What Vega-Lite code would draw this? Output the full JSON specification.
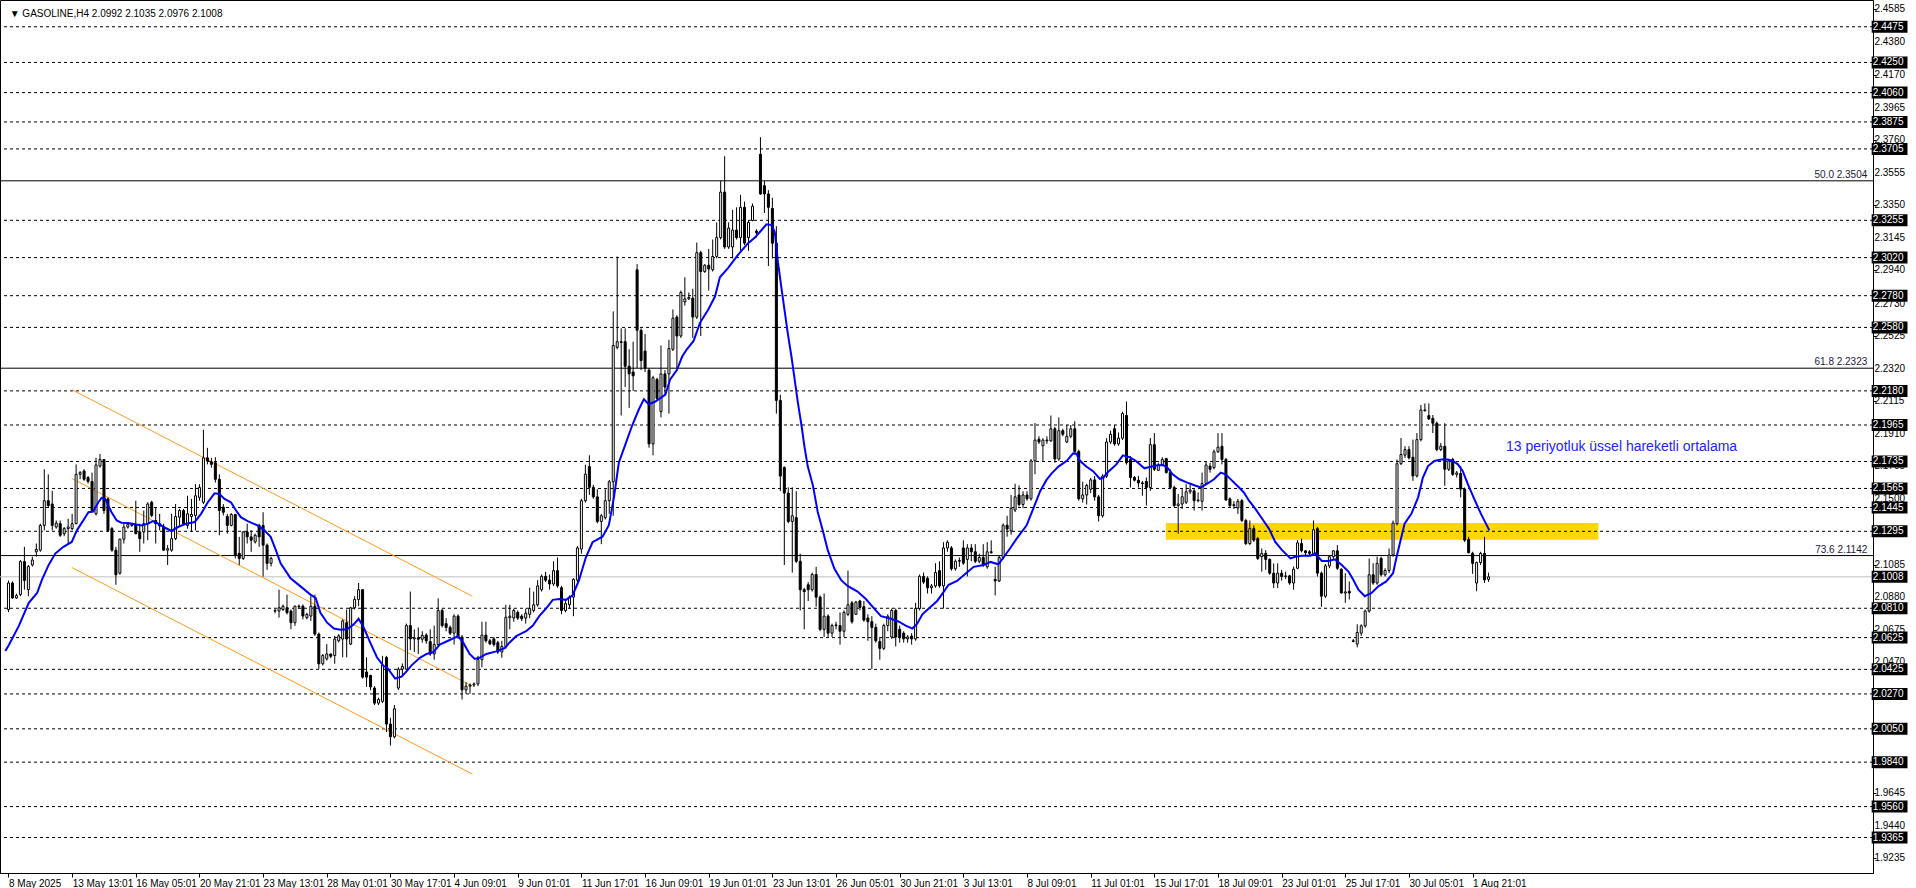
{
"$schema":"https://vega.github.io/schema/vega-lite/v6.json",
"width":1873,"height":873,
"autosize":{"type":"none"},
"padding":{"left":0,"top":0,"right":43,"bottom":15},
"background":"white",
"config":{"view":{"stroke":"black","strokeWidth":1},"font":"Liberation Sans","axis":{"labelOverlap":false,"labelBound":false,"labelFlush":false,"title":null,"grid":false}},
"datasets":{
"candles":[
{"i":0,"o":2.0802,"h":2.0985,"l":2.0786,"c":2.0969},
{"i":1,"o":2.0969,"h":2.0979,"l":2.0869,"c":2.0875},
{"i":2,"o":2.0875,"h":2.0902,"l":2.0869,"c":2.0890},
{"i":3,"o":2.0896,"h":2.1114,"l":2.0886,"c":2.1104},
{"i":4,"o":2.1104,"h":2.1197,"l":2.0927,"c":2.0985},
{"i":5,"o":2.0927,"h":2.1083,"l":2.0886,"c":2.1073},
{"i":6,"o":2.1083,"h":2.1135,"l":2.1073,"c":2.1114},
{"i":7,"o":2.1166,"h":2.1218,"l":2.1135,"c":2.1181},
{"i":8,"o":2.1176,"h":2.1343,"l":2.1166,"c":2.1332},
{"i":9,"o":2.1332,"h":2.1686,"l":2.1301,"c":2.1488},
{"i":10,"o":2.1488,"h":2.1654,"l":2.1447,"c":2.1457},
{"i":11,"o":2.1467,"h":2.1550,"l":2.1301,"c":2.1332},
{"i":12,"o":2.1322,"h":2.1363,"l":2.1312,"c":2.1347},
{"i":13,"o":2.1343,"h":2.1363,"l":2.1260,"c":2.1270},
{"i":14,"o":2.1280,"h":2.1322,"l":2.1264,"c":2.1312},
{"i":15,"o":2.1312,"h":2.1374,"l":2.1218,"c":2.1322},
{"i":16,"o":2.1312,"h":2.1405,"l":2.1301,"c":2.1343},
{"i":17,"o":2.1343,"h":2.1717,"l":2.1339,"c":2.1654},
{"i":18,"o":2.1654,"h":2.1675,"l":2.1623,"c":2.1665},
{"i":19,"o":2.1675,"h":2.1686,"l":2.1613,"c":2.1623},
{"i":20,"o":2.1634,"h":2.1644,"l":2.1596,"c":2.1609},
{"i":21,"o":2.1609,"h":2.1665,"l":2.1415,"c":2.1426},
{"i":22,"o":2.1405,"h":2.1758,"l":2.1395,"c":2.1713},
{"i":23,"o":2.1706,"h":2.1783,"l":2.1696,"c":2.1748},
{"i":24,"o":2.1748,"h":2.1750,"l":2.1405,"c":2.1426},
{"i":25,"o":2.1499,"h":2.1509,"l":2.1291,"c":2.1301},
{"i":26,"o":2.1312,"h":2.1322,"l":2.1166,"c":2.1176},
{"i":27,"o":2.1176,"h":2.1197,"l":2.0958,"c":2.1021},
{"i":28,"o":2.1031,"h":2.1249,"l":2.1021,"c":2.1245},
{"i":29,"o":2.1245,"h":2.1343,"l":2.1218,"c":2.1322},
{"i":30,"o":2.1322,"h":2.1353,"l":2.1312,"c":2.1339},
{"i":31,"o":2.1339,"h":2.1347,"l":2.1322,"c":2.1332},
{"i":32,"o":2.1336,"h":2.1488,"l":2.1276,"c":2.1280},
{"i":33,"o":2.1291,"h":2.1343,"l":2.1166,"c":2.1249},
{"i":34,"o":2.1291,"h":2.1426,"l":2.1218,"c":2.1343},
{"i":35,"o":2.1343,"h":2.1478,"l":2.1239,"c":2.1467},
{"i":36,"o":2.1478,"h":2.1488,"l":2.1384,"c":2.1395},
{"i":37,"o":2.1363,"h":2.1447,"l":2.1218,"c":2.1343},
{"i":38,"o":2.1343,"h":2.1405,"l":2.1301,"c":2.1328},
{"i":39,"o":2.1322,"h":2.1343,"l":2.1172,"c":2.1176},
{"i":40,"o":2.1176,"h":2.1208,"l":2.1083,"c":2.1185},
{"i":41,"o":2.1176,"h":2.1405,"l":2.1166,"c":2.1249},
{"i":42,"o":2.1249,"h":2.1467,"l":2.1239,"c":2.1388},
{"i":43,"o":2.1384,"h":2.1436,"l":2.1332,"c":2.1426},
{"i":44,"o":2.1426,"h":2.1436,"l":2.1332,"c":2.1343},
{"i":45,"o":2.1332,"h":2.1519,"l":2.1312,"c":2.1405},
{"i":46,"o":2.1388,"h":2.1499,"l":2.1291,"c":2.1401},
{"i":47,"o":2.1395,"h":2.1592,"l":2.1301,"c":2.1519},
{"i":48,"o":2.1509,"h":2.1592,"l":2.1488,"c":2.1571},
{"i":49,"o":2.1478,"h":2.1935,"l":2.1467,"c":2.1758},
{"i":50,"o":2.1758,"h":2.1821,"l":2.1717,"c":2.1738},
{"i":51,"o":2.1733,"h":2.1758,"l":2.1696,"c":2.1717},
{"i":52,"o":2.1727,"h":2.1762,"l":2.1602,"c":2.1623},
{"i":53,"o":2.1623,"h":2.1654,"l":2.1270,"c":2.1426},
{"i":54,"o":2.1447,"h":2.1467,"l":2.1395,"c":2.1415},
{"i":55,"o":2.1388,"h":2.1405,"l":2.1280,"c":2.1332},
{"i":56,"o":2.1332,"h":2.1409,"l":2.1326,"c":2.1401},
{"i":57,"o":2.1401,"h":2.1405,"l":2.1124,"c":2.1145},
{"i":58,"o":2.1156,"h":2.1260,"l":2.1083,"c":2.1124},
{"i":59,"o":2.1124,"h":2.1295,"l":2.1114,"c":2.1291},
{"i":60,"o":2.1291,"h":2.1343,"l":2.1218,"c":2.1260},
{"i":61,"o":2.1260,"h":2.1301,"l":2.1166,"c":2.1239},
{"i":62,"o":2.1228,"h":2.1280,"l":2.1218,"c":2.1270},
{"i":63,"o":2.1332,"h":2.1343,"l":2.1197,"c":2.1260},
{"i":64,"o":2.1332,"h":2.1415,"l":2.1010,"c":2.1208},
{"i":65,"o":2.1208,"h":2.1218,"l":2.1052,"c":2.1093},
{"i":66,"o":2.1093,"h":2.1135,"l":2.1073,"c":2.1124},
{"i":67,"o":2.0792,"h":2.0807,"l":2.0778,"c":2.0796},
{"i":68,"o":2.0792,"h":2.0927,"l":2.0751,"c":2.0813},
{"i":69,"o":2.0802,"h":2.0834,"l":2.0792,"c":2.0823},
{"i":70,"o":2.0813,"h":2.0896,"l":2.0771,"c":2.0782},
{"i":71,"o":2.0792,"h":2.0802,"l":2.0678,"c":2.0719},
{"i":72,"o":2.0719,"h":2.0827,"l":2.0699,"c":2.0823},
{"i":73,"o":2.0823,"h":2.0834,"l":2.0807,"c":2.0819},
{"i":74,"o":2.0823,"h":2.0834,"l":2.0740,"c":2.0761},
{"i":75,"o":2.0751,"h":2.0782,"l":2.0740,"c":2.0771},
{"i":76,"o":2.0761,"h":2.0886,"l":2.0730,"c":2.0823},
{"i":77,"o":2.0823,"h":2.0896,"l":2.0636,"c":2.0647},
{"i":78,"o":2.0647,"h":2.0657,"l":2.0428,"c":2.0460},
{"i":79,"o":2.0460,"h":2.0522,"l":2.0449,"c":2.0512},
{"i":80,"o":2.0491,"h":2.0584,"l":2.0480,"c":2.0522},
{"i":81,"o":2.0522,"h":2.0522,"l":2.0495,"c":2.0507},
{"i":82,"o":2.0512,"h":2.0636,"l":2.0460,"c":2.0616},
{"i":83,"o":2.0605,"h":2.0647,"l":2.0595,"c":2.0636},
{"i":84,"o":2.0616,"h":2.0740,"l":2.0501,"c":2.0730},
{"i":85,"o":2.0719,"h":2.0802,"l":2.0501,"c":2.0616},
{"i":86,"o":2.0584,"h":2.0819,"l":2.0578,"c":2.0813},
{"i":87,"o":2.0813,"h":2.0886,"l":2.0802,"c":2.0865},
{"i":88,"o":2.0865,"h":2.0969,"l":2.0823,"c":2.0927},
{"i":89,"o":2.0927,"h":2.0930,"l":2.0366,"c":2.0376},
{"i":90,"o":2.0408,"h":2.0501,"l":2.0314,"c":2.0376},
{"i":91,"o":2.0387,"h":2.0390,"l":2.0293,"c":2.0314},
{"i":92,"o":2.0307,"h":2.0319,"l":2.0200,"c":2.0212},
{"i":93,"o":2.0212,"h":2.0247,"l":2.0200,"c":2.0235},
{"i":94,"o":2.0223,"h":2.0510,"l":2.0212,"c":2.0450},
{"i":95,"o":2.0500,"h":2.0510,"l":2.0030,"c":2.0080},
{"i":96,"o":2.0080,"h":2.0120,"l":1.9945,"c":2.0000},
{"i":97,"o":2.0000,"h":2.0200,"l":1.9990,"c":2.0176},
{"i":98,"o":2.0307,"h":2.0438,"l":2.0295,"c":2.0426},
{"i":99,"o":2.0426,"h":2.0462,"l":2.0390,"c":2.0443},
{"i":100,"o":2.0426,"h":2.0713,"l":2.0419,"c":2.0701},
{"i":101,"o":2.0701,"h":2.0915,"l":2.0546,"c":2.0617},
{"i":102,"o":2.0617,"h":2.0677,"l":2.0534,"c":2.0624},
{"i":103,"o":2.0624,"h":2.0689,"l":2.0522,"c":2.0615},
{"i":104,"o":2.0615,"h":2.0665,"l":2.0593,"c":2.0639},
{"i":105,"o":2.0641,"h":2.0653,"l":2.0586,"c":2.0605},
{"i":106,"o":2.0600,"h":2.0677,"l":2.0510,"c":2.0522},
{"i":107,"o":2.0522,"h":2.0701,"l":2.0486,"c":2.0581},
{"i":108,"o":2.0581,"h":2.0872,"l":2.0569,"c":2.0796},
{"i":109,"o":2.0796,"h":2.0808,"l":2.0689,"c":2.0701},
{"i":110,"o":2.0713,"h":2.0748,"l":2.0665,"c":2.0689},
{"i":111,"o":2.0689,"h":2.0701,"l":2.0641,"c":2.0653},
{"i":112,"o":2.0653,"h":2.0772,"l":2.0581,"c":2.0760},
{"i":113,"o":2.0760,"h":2.0772,"l":2.0617,"c":2.0629},
{"i":114,"o":2.0629,"h":2.0641,"l":2.0235,"c":2.0295},
{"i":115,"o":2.0295,"h":2.0343,"l":2.0271,"c":2.0319},
{"i":116,"o":2.0319,"h":2.0336,"l":2.0271,"c":2.0326},
{"i":117,"o":2.0326,"h":2.0343,"l":2.0314,"c":2.0333},
{"i":118,"o":2.0333,"h":2.0510,"l":2.0319,"c":2.0486},
{"i":119,"o":2.0486,"h":2.0725,"l":2.0438,"c":2.0641},
{"i":120,"o":2.0641,"h":2.0725,"l":2.0593,"c":2.0605},
{"i":121,"o":2.0605,"h":2.0617,"l":2.0577,"c":2.0586},
{"i":122,"o":2.0617,"h":2.0629,"l":2.0569,"c":2.0581},
{"i":123,"o":2.0593,"h":2.0605,"l":2.0522,"c":2.0534},
{"i":124,"o":2.0534,"h":2.0605,"l":2.0498,"c":2.0569},
{"i":125,"o":2.0569,"h":2.0832,"l":2.0557,"c":2.0753},
{"i":126,"o":2.0751,"h":2.0832,"l":2.0677,"c":2.0760},
{"i":127,"o":2.0748,"h":2.0808,"l":2.0725,"c":2.0796},
{"i":128,"o":2.0784,"h":2.0796,"l":2.0736,"c":2.0748},
{"i":129,"o":2.0760,"h":2.0772,"l":2.0729,"c":2.0744},
{"i":130,"o":2.0748,"h":2.0808,"l":2.0713,"c":2.0779},
{"i":131,"o":2.0772,"h":2.0939,"l":2.0748,"c":2.0808},
{"i":132,"o":2.0796,"h":2.0915,"l":2.0784,"c":2.0832},
{"i":133,"o":2.0832,"h":2.0987,"l":2.0820,"c":2.0951},
{"i":134,"o":2.0927,"h":2.1023,"l":2.0915,"c":2.1011},
{"i":135,"o":2.1011,"h":2.1039,"l":2.0975,"c":2.0987},
{"i":136,"o":2.0987,"h":2.1023,"l":2.0927,"c":2.0963},
{"i":137,"o":2.0963,"h":2.1106,"l":2.0951,"c":2.1047},
{"i":138,"o":2.1047,"h":2.1130,"l":2.0939,"c":2.0951},
{"i":139,"o":2.0939,"h":2.0951,"l":2.0772,"c":2.0796},
{"i":140,"o":2.0796,"h":2.0856,"l":2.0784,"c":2.0839},
{"i":141,"o":2.0832,"h":2.0891,"l":2.0808,"c":2.0880},
{"i":142,"o":2.0880,"h":2.0999,"l":2.0760,"c":2.0992},
{"i":143,"o":2.0987,"h":2.1202,"l":2.0975,"c":2.1190},
{"i":144,"o":2.1183,"h":2.1500,"l":2.1154,"c":2.1488},
{"i":145,"o":2.1488,"h":2.1715,"l":2.1476,"c":2.1655},
{"i":146,"o":2.1703,"h":2.1774,"l":2.1524,"c":2.1572},
{"i":147,"o":2.1572,"h":2.1588,"l":2.1500,"c":2.1512},
{"i":148,"o":2.1512,"h":2.1560,"l":2.1345,"c":2.1357},
{"i":149,"o":2.1357,"h":2.1405,"l":2.1214,"c":2.1393},
{"i":150,"o":2.1381,"h":2.1560,"l":2.1369,"c":2.1488},
{"i":151,"o":2.1488,"h":2.1619,"l":2.1405,"c":2.1607},
{"i":152,"o":2.1607,"h":2.2681,"l":2.1393,"c":2.2466},
{"i":153,"o":2.2454,"h":2.3027,"l":2.2442,"c":2.2490},
{"i":154,"o":2.2490,"h":2.2574,"l":2.2025,"c":2.2485},
{"i":155,"o":2.2490,"h":2.2574,"l":2.2204,"c":2.2335},
{"i":156,"o":2.2335,"h":2.2442,"l":2.2073,"c":2.2287},
{"i":157,"o":2.2299,"h":2.2490,"l":2.2180,"c":2.2275},
{"i":158,"o":2.2943,"h":2.2979,"l":2.2323,"c":2.2562},
{"i":159,"o":2.2562,"h":2.2574,"l":2.2311,"c":2.2371},
{"i":160,"o":2.2431,"h":2.2538,"l":2.2299,"c":2.2323},
{"i":161,"o":2.2311,"h":2.2323,"l":2.1822,"c":2.1846},
{"i":162,"o":2.1846,"h":2.2275,"l":2.1774,"c":2.2263},
{"i":163,"o":2.2252,"h":2.2263,"l":2.2120,"c":2.2132},
{"i":164,"o":2.2049,"h":2.2466,"l":2.2013,"c":2.2287},
{"i":165,"o":2.2287,"h":2.2311,"l":2.2156,"c":2.2204},
{"i":166,"o":2.2287,"h":2.2502,"l":2.2037,"c":2.2447},
{"i":167,"o":2.2442,"h":2.2693,"l":2.2431,"c":2.2638},
{"i":168,"o":2.2645,"h":2.2657,"l":2.2323,"c":2.2526},
{"i":169,"o":2.2526,"h":2.2812,"l":2.2514,"c":2.2800},
{"i":170,"o":2.2741,"h":2.2896,"l":2.2717,"c":2.2760},
{"i":171,"o":2.2760,"h":2.2800,"l":2.2753,"c":2.2769},
{"i":172,"o":2.2765,"h":2.2824,"l":2.2514,"c":2.2645},
{"i":173,"o":2.2645,"h":2.3115,"l":2.2633,"c":2.3051},
{"i":174,"o":2.3051,"h":2.3063,"l":2.2526,"c":2.2932},
{"i":175,"o":2.2932,"h":2.2979,"l":2.2924,"c":2.2972},
{"i":176,"o":2.2972,"h":2.3075,"l":2.2812,"c":2.2948},
{"i":177,"o":2.2944,"h":2.3134,"l":2.2932,"c":2.3027},
{"i":178,"o":2.3027,"h":2.3242,"l":2.3015,"c":2.3146},
{"i":179,"o":2.3146,"h":2.3504,"l":2.3134,"c":2.3433},
{"i":180,"o":2.3433,"h":2.3659,"l":2.3075,"c":2.3087},
{"i":181,"o":2.3087,"h":2.3242,"l":2.3075,"c":2.3206},
{"i":182,"o":2.3087,"h":2.3321,"l":2.3015,"c":2.3194},
{"i":183,"o":2.3194,"h":2.3337,"l":2.3134,"c":2.3146},
{"i":184,"o":2.3146,"h":2.3416,"l":2.3063,"c":2.3337},
{"i":185,"o":2.3337,"h":2.3373,"l":2.3099,"c":2.3111},
{"i":186,"o":2.3146,"h":2.3254,"l":2.3063,"c":2.3242},
{"i":187,"o":2.3254,"h":2.3361,"l":2.3249,"c":2.3344},
{"i":188,"o":2.3187,"h":2.3199,"l":2.3146,"c":2.3177},
{"i":189,"o":2.3671,"h":2.3779,"l":2.3416,"c":2.3421},
{"i":190,"o":2.3473,"h":2.3504,"l":2.3301,"c":2.3421},
{"i":191,"o":2.3421,"h":2.3445,"l":2.2967,"c":2.3337},
{"i":192,"o":2.3330,"h":2.3397,"l":2.3015,"c":2.3111},
{"i":193,"o":2.3111,"h":2.3218,"l":2.2037,"c":2.2120},
{"i":194,"o":2.2120,"h":2.2156,"l":2.1548,"c":2.1643},
{"i":195,"o":2.1698,"h":2.1703,"l":2.1083,"c":2.1536},
{"i":196,"o":2.1536,"h":2.1572,"l":2.1345,"c":2.1357},
{"i":197,"o":2.1357,"h":2.1572,"l":2.1035,"c":2.1393},
{"i":198,"o":2.1381,"h":2.1548,"l":2.1094,"c":2.1106},
{"i":199,"o":2.1106,"h":2.1154,"l":2.0796,"c":2.0927},
{"i":200,"o":2.0927,"h":2.0939,"l":2.0677,"c":2.0915},
{"i":201,"o":2.0958,"h":2.0975,"l":2.0856,"c":2.0927},
{"i":202,"o":2.0927,"h":2.1035,"l":2.0915,"c":2.1023},
{"i":203,"o":2.1023,"h":2.1071,"l":2.0820,"c":2.0880},
{"i":204,"o":2.0880,"h":2.0891,"l":2.0665,"c":2.0677},
{"i":205,"o":2.0677,"h":2.0903,"l":2.0629,"c":2.0760},
{"i":206,"o":2.0760,"h":2.0772,"l":2.0629,"c":2.0653},
{"i":207,"o":2.0653,"h":2.0713,"l":2.0629,"c":2.0701},
{"i":208,"o":2.0701,"h":2.0725,"l":2.0677,"c":2.0705},
{"i":209,"o":2.0701,"h":2.0784,"l":2.0581,"c":2.0665},
{"i":210,"o":2.0665,"h":2.0796,"l":2.0629,"c":2.0784},
{"i":211,"o":2.0772,"h":2.1047,"l":2.0760,"c":2.0832},
{"i":212,"o":2.0844,"h":2.0856,"l":2.0713,"c":2.0725},
{"i":213,"o":2.0772,"h":2.0856,"l":2.0767,"c":2.0849},
{"i":214,"o":2.0856,"h":2.0863,"l":2.0796,"c":2.0815},
{"i":215,"o":2.0820,"h":2.0856,"l":2.0725,"c":2.0736},
{"i":216,"o":2.0748,"h":2.0772,"l":2.0605,"c":2.0725},
{"i":217,"o":2.0725,"h":2.0760,"l":2.0426,"c":2.0689},
{"i":218,"o":2.0689,"h":2.0713,"l":2.0593,"c":2.0605},
{"i":219,"o":2.0600,"h":2.0629,"l":2.0486,"c":2.0557},
{"i":220,"o":2.0557,"h":2.0713,"l":2.0546,"c":2.0701},
{"i":221,"o":2.0701,"h":2.0772,"l":2.0665,"c":2.0760},
{"i":222,"o":2.0629,"h":2.0808,"l":2.0617,"c":2.0796},
{"i":223,"o":2.0796,"h":2.0808,"l":2.0569,"c":2.0629},
{"i":224,"o":2.0677,"h":2.0701,"l":2.0593,"c":2.0629},
{"i":225,"o":2.0653,"h":2.0665,"l":2.0593,"c":2.0617},
{"i":226,"o":2.0617,"h":2.0641,"l":2.0593,"c":2.0629},
{"i":227,"o":2.0634,"h":2.0653,"l":2.0581,"c":2.0617},
{"i":228,"o":2.0617,"h":2.0844,"l":2.0605,"c":2.0808},
{"i":229,"o":2.0808,"h":2.1023,"l":2.0796,"c":2.1011},
{"i":230,"o":2.1011,"h":2.1035,"l":2.0963,"c":2.0975},
{"i":231,"o":2.0999,"h":2.1011,"l":2.0903,"c":2.0939},
{"i":232,"o":2.0939,"h":2.0963,"l":2.0903,"c":2.0951},
{"i":233,"o":2.0951,"h":2.1094,"l":2.0939,"c":2.1035},
{"i":234,"o":2.1047,"h":2.1106,"l":2.0939,"c":2.0951},
{"i":235,"o":2.0951,"h":2.1226,"l":2.0808,"c":2.1190},
{"i":236,"o":2.1190,"h":2.1238,"l":2.1166,"c":2.1226},
{"i":237,"o":2.1190,"h":2.1202,"l":2.1047,"c":2.1059},
{"i":238,"o":2.1059,"h":2.1118,"l":2.1047,"c":2.1106},
{"i":239,"o":2.1106,"h":2.1130,"l":2.1071,"c":2.1111},
{"i":240,"o":2.1190,"h":2.1238,"l":2.1083,"c":2.1094},
{"i":241,"o":2.1118,"h":2.1214,"l":2.1011,"c":2.1190},
{"i":242,"o":2.1190,"h":2.1214,"l":2.1106,"c":2.1166},
{"i":243,"o":2.1166,"h":2.1214,"l":2.1094,"c":2.1106},
{"i":244,"o":2.1106,"h":2.1154,"l":2.1094,"c":2.1130},
{"i":245,"o":2.1130,"h":2.1214,"l":2.1071,"c":2.1083},
{"i":246,"o":2.1071,"h":2.1226,"l":2.1059,"c":2.1166},
{"i":247,"o":2.1166,"h":2.1238,"l":2.1154,"c":2.1161},
{"i":248,"o":2.0992,"h":2.1071,"l":2.0891,"c":2.0982},
{"i":249,"o":2.0982,"h":2.1142,"l":2.0975,"c":2.1130},
{"i":250,"o":2.1130,"h":2.1345,"l":2.1118,"c":2.1333},
{"i":251,"o":2.1333,"h":2.1393,"l":2.1261,"c":2.1309},
{"i":252,"o":2.1297,"h":2.1524,"l":2.1273,"c":2.1440},
{"i":253,"o":2.1429,"h":2.1595,"l":2.1416,"c":2.1512},
{"i":254,"o":2.1524,"h":2.1584,"l":2.1452,"c":2.1464},
{"i":255,"o":2.1464,"h":2.1548,"l":2.1440,"c":2.1524},
{"i":256,"o":2.1524,"h":2.1548,"l":2.1488,"c":2.1500},
{"i":257,"o":2.1500,"h":2.1751,"l":2.1488,"c":2.1739},
{"i":258,"o":2.1739,"h":2.1977,"l":2.1655,"c":2.1870},
{"i":259,"o":2.1875,"h":2.1894,"l":2.1846,"c":2.1858},
{"i":260,"o":2.1834,"h":2.1882,"l":2.1739,"c":2.1870},
{"i":261,"o":2.1870,"h":2.1894,"l":2.1846,"c":2.1865},
{"i":262,"o":2.1865,"h":2.2025,"l":2.1858,"c":2.1941},
{"i":263,"o":2.1941,"h":2.1953,"l":2.1727,"c":2.1751},
{"i":264,"o":2.1751,"h":2.2013,"l":2.1739,"c":2.1929},
{"i":265,"o":2.1929,"h":2.1941,"l":2.1894,"c":2.1906},
{"i":266,"o":2.1858,"h":2.1965,"l":2.1851,"c":2.1894},
{"i":267,"o":2.1894,"h":2.1965,"l":2.1882,"c":2.1941},
{"i":268,"o":2.1941,"h":2.1989,"l":2.1786,"c":2.1798},
{"i":269,"o":2.1798,"h":2.1810,"l":2.1488,"c":2.1500},
{"i":270,"o":2.1500,"h":2.1607,"l":2.1476,"c":2.1524},
{"i":271,"o":2.1524,"h":2.1595,"l":2.1464,"c":2.1584},
{"i":272,"o":2.1560,"h":2.1631,"l":2.1536,"c":2.1619},
{"i":273,"o":2.1619,"h":2.1643,"l":2.1488,"c":2.1512},
{"i":274,"o":2.1512,"h":2.1524,"l":2.1357,"c":2.1393},
{"i":275,"o":2.1393,"h":2.1655,"l":2.1381,"c":2.1643},
{"i":276,"o":2.1643,"h":2.1882,"l":2.1631,"c":2.1858},
{"i":277,"o":2.1858,"h":2.1929,"l":2.1846,"c":2.1906},
{"i":278,"o":2.1941,"h":2.1965,"l":2.1834,"c":2.1846},
{"i":279,"o":2.1846,"h":2.1918,"l":2.1834,"c":2.1882},
{"i":280,"o":2.1882,"h":2.2049,"l":2.1870,"c":2.2037},
{"i":281,"o":2.2025,"h":2.2113,"l":2.1715,"c":2.1727},
{"i":282,"o":2.1748,"h":2.1769,"l":2.1571,"c":2.1634},
{"i":283,"o":2.1634,"h":2.1644,"l":2.1609,"c":2.1617},
{"i":284,"o":2.1617,"h":2.1644,"l":2.1571,"c":2.1600},
{"i":285,"o":2.1600,"h":2.1613,"l":2.1519,"c":2.1596},
{"i":286,"o":2.1609,"h":2.1634,"l":2.1457,"c":2.1571},
{"i":287,"o":2.1571,"h":2.1883,"l":2.1550,"c":2.1841},
{"i":288,"o":2.1841,"h":2.1914,"l":2.1675,"c":2.1686},
{"i":289,"o":2.1679,"h":2.1727,"l":2.1675,"c":2.1713},
{"i":290,"o":2.1713,"h":2.1762,"l":2.1706,"c":2.1748},
{"i":291,"o":2.1754,"h":2.1758,"l":2.1659,"c":2.1665},
{"i":292,"o":2.1665,"h":2.1686,"l":2.1561,"c":2.1571},
{"i":293,"o":2.1571,"h":2.1582,"l":2.1447,"c":2.1457},
{"i":294,"o":2.1457,"h":2.1530,"l":2.1280,"c":2.1467},
{"i":295,"o":2.1467,"h":2.1561,"l":2.1436,"c":2.1513},
{"i":296,"o":2.1478,"h":2.1592,"l":2.1467,"c":2.1544},
{"i":297,"o":2.1544,"h":2.1596,"l":2.1530,"c":2.1555},
{"i":298,"o":2.1550,"h":2.1561,"l":2.1426,"c":2.1488},
{"i":299,"o":2.1488,"h":2.1540,"l":2.1478,"c":2.1492},
{"i":300,"o":2.1484,"h":2.1665,"l":2.1426,"c":2.1596},
{"i":301,"o":2.1596,"h":2.1738,"l":2.1592,"c":2.1713},
{"i":302,"o":2.1706,"h":2.1727,"l":2.1665,"c":2.1686},
{"i":303,"o":2.1696,"h":2.1810,"l":2.1686,"c":2.1796},
{"i":304,"o":2.1796,"h":2.1914,"l":2.1789,"c":2.1825},
{"i":305,"o":2.1831,"h":2.1914,"l":2.1717,"c":2.1748},
{"i":306,"o":2.1748,"h":2.1758,"l":2.1488,"c":2.1492},
{"i":307,"o":2.1499,"h":2.1509,"l":2.1447,"c":2.1457},
{"i":308,"o":2.1457,"h":2.1484,"l":2.1436,"c":2.1463},
{"i":309,"o":2.1442,"h":2.1499,"l":2.1405,"c":2.1484},
{"i":310,"o":2.1488,"h":2.1499,"l":2.1353,"c":2.1363},
{"i":311,"o":2.1363,"h":2.1374,"l":2.1208,"c":2.1218},
{"i":312,"o":2.1218,"h":2.1363,"l":2.1208,"c":2.1312},
{"i":313,"o":2.1312,"h":2.1332,"l":2.1228,"c":2.1239},
{"i":314,"o":2.1249,"h":2.1260,"l":2.1114,"c":2.1124},
{"i":315,"o":2.1135,"h":2.1187,"l":2.1041,"c":2.1156},
{"i":316,"o":2.1156,"h":2.1176,"l":2.1052,"c":2.1118},
{"i":317,"o":2.1118,"h":2.1124,"l":2.1021,"c":2.1031},
{"i":318,"o":2.1031,"h":2.1093,"l":2.0937,"c":2.0969},
{"i":319,"o":2.0969,"h":2.1093,"l":2.0937,"c":2.1031},
{"i":320,"o":2.1031,"h":2.1052,"l":2.0985,"c":2.1010},
{"i":321,"o":2.1010,"h":2.1041,"l":2.0994,"c":2.1014},
{"i":322,"o":2.1014,"h":2.1021,"l":2.0958,"c":2.0969},
{"i":323,"o":2.0969,"h":2.1073,"l":2.0927,"c":2.1056},
{"i":324,"o":2.1062,"h":2.1239,"l":2.1056,"c":2.1222},
{"i":325,"o":2.1218,"h":2.1249,"l":2.1162,"c":2.1172},
{"i":326,"o":2.1172,"h":2.1176,"l":2.1145,"c":2.1160},
{"i":327,"o":2.1166,"h":2.1176,"l":2.1145,"c":2.1156},
{"i":328,"o":2.1156,"h":2.1363,"l":2.1145,"c":2.1305},
{"i":329,"o":2.1312,"h":2.1322,"l":2.1010,"c":2.1031},
{"i":330,"o":2.1031,"h":2.1041,"l":2.0819,"c":2.0886},
{"i":331,"o":2.0886,"h":2.1089,"l":2.0875,"c":2.1077},
{"i":332,"o":2.1077,"h":2.1145,"l":2.1062,"c":2.1135},
{"i":333,"o":2.1135,"h":2.1176,"l":2.1114,"c":2.1172},
{"i":334,"o":2.1172,"h":2.1208,"l":2.1052,"c":2.1062},
{"i":335,"o":2.1056,"h":2.1062,"l":2.0902,"c":2.0906},
{"i":336,"o":2.0906,"h":2.1031,"l":2.0844,"c":2.0913},
{"i":337,"o":2.0917,"h":2.0979,"l":2.0865,"c":2.0906},
{"i":338,"o":2.0605,"h":2.0616,"l":2.0595,"c":2.0601},
{"i":339,"o":2.0584,"h":2.0709,"l":2.0563,"c":2.0657},
{"i":340,"o":2.0653,"h":2.0709,"l":2.0636,"c":2.0699},
{"i":341,"o":2.0699,"h":2.0802,"l":2.0688,"c":2.0792},
{"i":342,"o":2.0792,"h":2.1124,"l":2.0782,"c":2.1021},
{"i":343,"o":2.1021,"h":2.1093,"l":2.0958,"c":2.0969},
{"i":344,"o":2.0969,"h":2.1135,"l":2.0958,"c":2.1093},
{"i":345,"o":2.1124,"h":2.1135,"l":2.1010,"c":2.1021},
{"i":346,"o":2.1021,"h":2.1062,"l":2.1010,"c":2.1048},
{"i":347,"o":2.1048,"h":2.1187,"l":2.1031,"c":2.1145},
{"i":348,"o":2.1145,"h":2.1363,"l":2.1135,"c":2.1347},
{"i":349,"o":2.1343,"h":2.1748,"l":2.1332,"c":2.1721},
{"i":350,"o":2.1721,"h":2.1883,"l":2.1713,"c":2.1779},
{"i":351,"o":2.1775,"h":2.1831,"l":2.1758,"c":2.1810},
{"i":352,"o":2.1810,"h":2.1831,"l":2.1748,"c":2.1758},
{"i":353,"o":2.1762,"h":2.1873,"l":2.1613,"c":2.1644},
{"i":354,"o":2.1644,"h":2.1914,"l":2.1634,"c":2.1873},
{"i":355,"o":2.1873,"h":2.2091,"l":2.1862,"c":2.2060},
{"i":356,"o":2.2060,"h":2.2101,"l":2.2049,"c":2.2055},
{"i":357,"o":2.2024,"h":2.2101,"l":2.1997,"c":2.2003},
{"i":358,"o":2.2007,"h":2.2028,"l":2.1914,"c":2.1976},
{"i":359,"o":2.1976,"h":2.1987,"l":2.1800,"c":2.1810},
{"i":360,"o":2.1810,"h":2.1852,"l":2.1800,"c":2.1831},
{"i":361,"o":2.1831,"h":2.1976,"l":2.1582,"c":2.1686},
{"i":362,"o":2.1686,"h":2.1748,"l":2.1675,"c":2.1738},
{"i":363,"o":2.1748,"h":2.1758,"l":2.1644,"c":2.1654},
{"i":364,"o":2.1654,"h":2.1675,"l":2.1634,"c":2.1663},
{"i":365,"o":2.1659,"h":2.1706,"l":2.1509,"c":2.1561},
{"i":366,"o":2.1561,"h":2.1571,"l":2.1228,"c":2.1239},
{"i":367,"o":2.1243,"h":2.1260,"l":2.1156,"c":2.1160},
{"i":368,"o":2.1156,"h":2.1166,"l":2.1027,"c":2.1093},
{"i":369,"o":2.0969,"h":2.1104,"l":2.0917,"c":2.1098},
{"i":370,"o":2.1098,"h":2.1166,"l":2.1083,"c":2.1156},
{"i":371,"o":2.1156,"h":2.1260,"l":2.0969,"c":2.0989},
{"i":372,"o":2.0992,"h":2.1035,"l":2.0976,"c":2.1008}
],
"ema":[
{"i":-0.8,"v":2.0540},{"i":0,"v":2.0574},{"i":2.6,"v":2.0699},{"i":5.1,"v":2.0844},{"i":7.2,"v":2.0906},{"i":8.4,"v":2.0989},{"i":10.1,"v":2.1083},{"i":11.8,"v":2.1156},{"i":13.8,"v":2.1197},{"i":15.9,"v":2.1228},{"i":17.2,"v":2.1301},{"i":19.3,"v":2.1384},{"i":20.1,"v":2.1415},{"i":21.3,"v":2.142},{"i":22.6,"v":2.1478},{"i":23.4,"v":2.1505},{"i":24.3,"v":2.1499},{"i":25.1,"v":2.1457},{"i":25.9,"v":2.1415},{"i":27.2,"v":2.1363},{"i":28.4,"v":2.1349},{"i":30.1,"v":2.1347},{"i":31.8,"v":2.1339},{"i":33.4,"v":2.1332},{"i":35.1,"v":2.1343},{"i":36.3,"v":2.1359},{"i":37.6,"v":2.1343},{"i":39.3,"v":2.1318},{"i":40.9,"v":2.1297},{"i":42.6,"v":2.1322},{"i":44.7,"v":2.1343},{"i":46.8,"v":2.1353},{"i":48.4,"v":2.1405},{"i":50.1,"v":2.1478},{"i":51.8,"v":2.1534},{"i":53,"v":2.153},{"i":54.3,"v":2.1499},{"i":55.9,"v":2.1478},{"i":57.2,"v":2.1426},{"i":58.4,"v":2.1384},{"i":60.1,"v":2.1359},{"i":62.6,"v":2.1332},{"i":64.3,"v":2.1301},{"i":65.9,"v":2.126},{"i":67.2,"v":2.1176},{"i":68.4,"v":2.1093},{"i":70.9,"v":2.0999},{"i":73.4,"v":2.0948},{"i":75.9,"v":2.0896},{"i":77.2,"v":2.0875},{"i":78.4,"v":2.0782},{"i":80.1,"v":2.0719},{"i":81.8,"v":2.0682},{"i":83.4,"v":2.0674},{"i":85.1,"v":2.0678},{"i":86.8,"v":2.0709},{"i":88,"v":2.0744},{"i":89.3,"v":2.0688},{"i":90.9,"v":2.0595},{"i":92.6,"v":2.0501},{"i":94.3,"v":2.0445},{"i":95.1,"v":2.0438},{"i":97.2,"v":2.0367},{"i":98.8,"v":2.0379},{"i":100.1,"v":2.0414},{"i":101.3,"v":2.045},{"i":103.4,"v":2.0498},{"i":105.1,"v":2.0522},{"i":106.8,"v":2.0534},{"i":108.4,"v":2.0581},{"i":110.9,"v":2.061},{"i":113,"v":2.0634},{"i":114.3,"v":2.0593},{"i":115.9,"v":2.0522},{"i":117.2,"v":2.0491},{"i":118.4,"v":2.0498},{"i":120.1,"v":2.0522},{"i":122.6,"v":2.0538},{"i":124.7,"v":2.0558},{"i":125.9,"v":2.0593},{"i":127.6,"v":2.0634},{"i":130.1,"v":2.0665},{"i":131.8,"v":2.0701},{"i":133.4,"v":2.076},{"i":135.1,"v":2.0808},{"i":136.8,"v":2.0863},{"i":138.4,"v":2.0868},{"i":140.1,"v":2.0863},{"i":141.8,"v":2.0892},{"i":143.4,"v":2.0987},{"i":145.1,"v":2.113},{"i":146.8,"v":2.1226},{"i":149.3,"v":2.1261},{"i":150.9,"v":2.1333},{"i":152.2,"v":2.1512},{"i":153.4,"v":2.1727},{"i":155.1,"v":2.1846},{"i":156.8,"v":2.1965},{"i":158.4,"v":2.2061},{"i":159.7,"v":2.2128},{"i":160.9,"v":2.2096},{"i":162.6,"v":2.2113},{"i":165.1,"v":2.2156},{"i":166.3,"v":2.2252},{"i":168,"v":2.2311},{"i":169.3,"v":2.2395},{"i":170.5,"v":2.2442},{"i":172.2,"v":2.2495},{"i":173.8,"v":2.2609},{"i":175.9,"v":2.2693},{"i":177.6,"v":2.2776},{"i":178.8,"v":2.2896},{"i":180.9,"v":2.2955},{"i":183.4,"v":2.3039},{"i":185.9,"v":2.3111},{"i":187.6,"v":2.3146},{"i":189.3,"v":2.3194},{"i":190.5,"v":2.323},{"i":191.8,"v":2.3225},{"i":192.6,"v":2.3182},{"i":193.4,"v":2.2991},{"i":194.3,"v":2.2824},{"i":195.1,"v":2.2681},{"i":195.9,"v":2.2538},{"i":196.8,"v":2.2395},{"i":197.6,"v":2.2252},{"i":198.4,"v":2.2108},{"i":199.3,"v":2.1965},{"i":200.1,"v":2.1822},{"i":200.9,"v":2.1703},{"i":202.2,"v":2.1583},{"i":203.4,"v":2.1417},{"i":204.7,"v":2.1297},{"i":205.9,"v":2.1178},{"i":207.6,"v":2.1059},{"i":209.3,"v":2.0987},{"i":210.9,"v":2.0951},{"i":213.4,"v":2.0915},{"i":215.5,"v":2.0868},{"i":217.6,"v":2.0808},{"i":219.3,"v":2.076},{"i":221.8,"v":2.0744},{"i":223.8,"v":2.0725},{"i":225.5,"v":2.0701},{"i":227.2,"v":2.0682},{"i":228.4,"v":2.0713},{"i":229.7,"v":2.0772},{"i":231.8,"v":2.082},{"i":233.4,"v":2.0856},{"i":235.1,"v":2.0915},{"i":236.3,"v":2.0958},{"i":238.4,"v":2.0982},{"i":240.9,"v":2.1035},{"i":242.6,"v":2.1071},{"i":245.1,"v":2.1083},{"i":246.8,"v":2.1102},{"i":248.8,"v":2.1087},{"i":250.1,"v":2.113},{"i":251.8,"v":2.119},{"i":253.4,"v":2.1249},{"i":255.9,"v":2.1333},{"i":257.6,"v":2.144},{"i":259.3,"v":2.1548},{"i":260.9,"v":2.1619},{"i":262.2,"v":2.166},{"i":263.9,"v":2.1703},{"i":266,"v":2.1739},{"i":267.6,"v":2.1786},{"i":268.4,"v":2.1784},{"i":269.3,"v":2.1739},{"i":270.9,"v":2.1703},{"i":272.6,"v":2.1674},{"i":274.3,"v":2.1626},{"i":275.1,"v":2.1631},{"i":276.3,"v":2.1667},{"i":278.4,"v":2.1715},{"i":280.1,"v":2.1774},{"i":281.8,"v":2.1762},{"i":283.4,"v":2.1738},{"i":285.5,"v":2.1692},{"i":286.8,"v":2.17},{"i":288.4,"v":2.171},{"i":290.1,"v":2.1713},{"i":291.3,"v":2.1696},{"i":292.6,"v":2.1654},{"i":294.3,"v":2.1623},{"i":296.3,"v":2.1602},{"i":298.4,"v":2.1582},{"i":299.7,"v":2.1571},{"i":301.3,"v":2.1596},{"i":303,"v":2.1623},{"i":304.7,"v":2.1665},{"i":305.9,"v":2.1654},{"i":307.6,"v":2.1613},{"i":309.3,"v":2.1571},{"i":310.5,"v":2.154},{"i":311.8,"v":2.1488},{"i":313.4,"v":2.1436},{"i":315.1,"v":2.1374},{"i":316.8,"v":2.1312},{"i":318.4,"v":2.1228},{"i":320.1,"v":2.1176},{"i":322.2,"v":2.1124},{"i":323.4,"v":2.1135},{"i":325.1,"v":2.1141},{"i":327.2,"v":2.1141},{"i":328.4,"v":2.1156},{"i":330.1,"v":2.1108},{"i":331.8,"v":2.1108},{"i":333.4,"v":2.1118},{"i":335.1,"v":2.1083},{"i":336.8,"v":2.1041},{"i":338,"v":2.0989},{"i":339.3,"v":2.0927},{"i":340.9,"v":2.0886},{"i":342.6,"v":2.0906},{"i":344.3,"v":2.0948},{"i":346.3,"v":2.0979},{"i":348,"v":2.1031},{"i":348.8,"v":2.1124},{"i":349.7,"v":2.1218},{"i":350.9,"v":2.1343},{"i":352.6,"v":2.1405},{"i":354.3,"v":2.1509},{"i":355.5,"v":2.1634},{"i":356.8,"v":2.1706},{"i":358.4,"v":2.1738},{"i":360.1,"v":2.1748},{"i":361.8,"v":2.1748},{"i":363,"v":2.1738},{"i":364.3,"v":2.1717},{"i":365.5,"v":2.1675},{"i":366.8,"v":2.1592},{"i":368.4,"v":2.1499},{"i":370.1,"v":2.1405},{"i":372.2,"v":2.1301}
],
"levels":[{"p":2.4475},{"p":2.4250},{"p":2.4060},{"p":2.3875},{"p":2.3705},{"p":2.3255},{"p":2.3020},{"p":2.2780},{"p":2.2580},{"p":2.2180},{"p":2.1965},{"p":2.1735},{"p":2.1565},{"p":2.1445},{"p":2.1295},{"p":2.0810},{"p":2.0625},{"p":2.0425},{"p":2.0270},{"p":2.0050},{"p":1.9840},{"p":1.9560},{"p":1.9365}],
"marks":[{"p":2.4475},{"p":2.4250},{"p":2.4060},{"p":2.3875},{"p":2.3705},{"p":2.3255},{"p":2.3020},{"p":2.2780},{"p":2.2580},{"p":2.2180},{"p":2.1965},{"p":2.1735},{"p":2.1565},{"p":2.1445},{"p":2.1295},{"p":2.1008},{"p":2.0810},{"p":2.0625},{"p":2.0425},{"p":2.0270},{"p":2.0050},{"p":1.9840},{"p":1.9560},{"p":1.9365}],
"ticks":[{"p":2.4585},{"p":2.438},{"p":2.417},{"p":2.3965},{"p":2.376},{"p":2.3555},{"p":2.335},{"p":2.3145},{"p":2.294},{"p":2.273},{"p":2.2525},{"p":2.232},{"p":2.2115},{"p":2.191},{"p":2.1705},{"p":2.15},{"p":2.1085},{"p":2.088},{"p":2.0675},{"p":2.047},{"p":1.9645},{"p":1.944},{"p":1.9235}],
"fib":[{"p":2.3504,"t":"50.0 2.3504"},{"p":2.2323,"t":"61.8 2.2323"},{"p":2.1142,"t":"73.6 2.1142"}],
"bid":[{"p":2.1008}],
"chan":[{"i1":15.9,"p1":2.2188,"i2":116.6,"p2":2.0886},{"i1":15.9,"p1":2.1628,"i2":116.6,"p2":2.0319},{"i1":15.9,"p1":2.1067,"i2":116.6,"p2":1.9765}],
"zone":[{"i1":290.9,"i2":399.6,"p1":2.1241,"p2":2.1347}],
"notes":[{"i":0.3,"p":2.4556,"t":"▼  GASOLINE,H4  2.0992 2.1035 2.0976 2.1008"}],
"ann":[{"i":376.4,"p":2.1827,"t":"13 periyotluk üssel hareketli ortalama"}]
},
"layer":[
{"data":{"name":"zone"},"mark":{"type":"rect","color":"#ffd700"},
 "encoding":{"x":{"field":"i1","type":"quantitative","scale":{"domain":[-0.875,467.375],"nice":false,"zero":false},
   "axis":{"orient":"bottom","values":[0,16,32,48,64,80,96,112,128,144,160,176,192,208,224,240,256,272,288,304,320,336,352,368],
     "labelExpr":"['8 May 2025','13 May 13:01','16 May 05:01','20 May 21:01','23 May 13:01','28 May 01:01','30 May 17:01','4 Jun 09:01','9 Jun 01:01','11 Jun 17:01','16 Jun 09:01','19 Jun 01:01','23 Jun 13:01','26 Jun 05:01','30 Jun 21:01','3 Jul 13:01','8 Jul 09:01','11 Jul 01:01','15 Jul 17:01','18 Jul 09:01','23 Jul 01:01','25 Jul 17:01','30 Jul 05:01','1 Aug 21:01'][round(datum.value/16)]",
     "labelAlign":"left","labelBaseline":"top","labelPadding":1,"labelFontSize":10,"labelFont":"Liberation Sans","labelColor":"black","tickColor":"black","tickSize":4,"domainColor":"black","grid":false,"title":null,"labelOverlap":false,"labelBound":false,"labelFlush":false}},
   "x2":{"field":"i2"},
   "y":{"field":"p1","type":"quantitative","scale":{"domain":[1.91729,2.46121],"nice":false,"zero":false},
   "axis":{"orient":"right","values":[2.4585,2.438,2.417,2.3965,2.376,2.3555,2.335,2.3145,2.294,2.273,2.2525,2.232,2.2115,2.191,2.1705,2.15,2.1085,2.088,2.0675,2.047,1.9645,1.944,1.9235],
     "labels":false,"tickColor":"black","tickSize":3,"domainColor":"black","grid":false,"title":null}},
   "y2":{"field":"p2"}}},
{"data":{"name":"levels"},"mark":{"type":"rule","color":"black","strokeWidth":1,"strokeDash":[3,3]},
 "encoding":{"y":{"field":"p","type":"quantitative","axis":{"orient":"right","title":null}}}},
{"data":{"name":"bid"},"mark":{"type":"rule","color":"#c0c0c0","strokeWidth":1},
 "encoding":{"y":{"field":"p","type":"quantitative","axis":{"orient":"right","title":null}}}},
{"data":{"name":"fib"},"mark":{"type":"rule","color":"black","strokeWidth":1},
 "encoding":{"y":{"field":"p","type":"quantitative","axis":{"orient":"right","title":null}}}},
{"data":{"name":"fib"},"mark":{"type":"text","align":"right","baseline":"bottom","dy":-1,"fontSize":10,"font":"Liberation Sans","color":"#1a1a3a"},
 "encoding":{"x":{"datum":467.2,"type":"quantitative","axis":{"orient":"bottom","title":null}},"y":{"field":"p","type":"quantitative","axis":{"orient":"right","title":null}},"text":{"field":"t"}}},
{"data":{"name":"chan"},"mark":{"type":"rule","color":"#ff9a1a","strokeWidth":1},
 "encoding":{"x":{"field":"i1","type":"quantitative","axis":{"orient":"bottom","title":null}},"x2":{"field":"i2"},"y":{"field":"p1","type":"quantitative","axis":{"orient":"right","title":null}},"y2":{"field":"p2"}}},
{"data":{"name":"candles"},"mark":{"type":"rule","color":"black","strokeWidth":1},
 "encoding":{"x":{"field":"i","type":"quantitative","axis":{"orient":"bottom","title":null}},"y":{"field":"l","type":"quantitative","axis":{"orient":"right","title":null}},"y2":{"field":"h"}}},
{"data":{"name":"candles"},"mark":{"type":"bar","size":2,"stroke":"black","strokeWidth":1},
 "encoding":{"x":{"field":"i","type":"quantitative","axis":{"orient":"bottom","title":null}},"y":{"field":"o","type":"quantitative","axis":{"orient":"right","title":null}},"y2":{"field":"c"},
  "fill":{"condition":{"test":"datum.c < datum.o","value":"black"},"value":"white"}}},
{"data":{"name":"ema"},"mark":{"type":"line","color":"#0000ff","strokeWidth":2,"clip":true},
 "encoding":{"x":{"field":"i","type":"quantitative","axis":{"orient":"bottom","title":null}},"y":{"field":"v","type":"quantitative","axis":{"orient":"right","title":null}}}},
{"data":{"name":"ann"},"mark":{"type":"text","align":"left","baseline":"middle","fontSize":14,"font":"Liberation Sans","color":"#2323ff"},
 "encoding":{"x":{"field":"i","type":"quantitative","axis":{"orient":"bottom","title":null}},"y":{"field":"p","type":"quantitative","axis":{"orient":"right","title":null}},"text":{"field":"t"}}},
{"data":{"name":"notes"},"mark":{"type":"text","align":"left","baseline":"middle","fontSize":10,"font":"Liberation Sans","color":"black"},
 "encoding":{"x":{"field":"i","type":"quantitative","axis":{"orient":"bottom","title":null}},"y":{"field":"p","type":"quantitative","axis":{"orient":"right","title":null}},"text":{"field":"t"}}},
{"data":{"name":"ticks"},"mark":{"type":"text","align":"left","baseline":"middle","fontSize":10,"font":"Liberation Sans","color":"black"},
 "encoding":{"x":{"datum":469.0,"type":"quantitative","axis":{"orient":"bottom","title":null}},"y":{"field":"p","type":"quantitative","axis":{"orient":"right","title":null}},"text":{"field":"p","type":"quantitative","format":".4f"}}},
{"data":{"name":"marks"},"mark":{"type":"bar","orient":"horizontal","size":12,"color":"black"},
 "encoding":{"x":{"datum":468.3,"type":"quantitative","axis":{"orient":"bottom","title":null}},"x2":{"datum":477.3},"y":{"field":"p","type":"quantitative","axis":{"orient":"right","title":null}}}},
{"data":{"name":"marks"},"mark":{"type":"text","align":"left","baseline":"middle","fontSize":10,"font":"Liberation Sans","color":"white"},
 "encoding":{"x":{"datum":468.6,"type":"quantitative","axis":{"orient":"bottom","title":null}},"y":{"field":"p","type":"quantitative","axis":{"orient":"right","title":null}},"text":{"field":"p","type":"quantitative","format":".4f"}}}
]
}
